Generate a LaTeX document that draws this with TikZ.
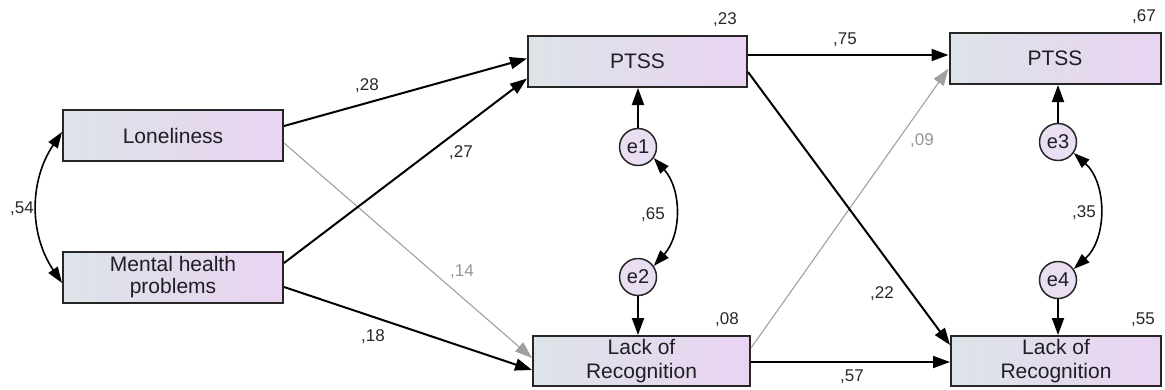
\documentclass[tikz,border=0pt]{standalone}
\usepackage{fontspec}
\setmainfont{Liberation Sans}
\usetikzlibrary{arrows.meta,calc}
\definecolor{boxL}{RGB}{220,228,232}
\definecolor{boxR}{RGB}{234,211,242}
\definecolor{errfill}{RGB}{234,222,242}
\definecolor{txt}{RGB}{30,30,36}
\definecolor{lbl}{RGB}{40,40,40}
\definecolor{glbl}{RGB}{150,150,150}
\definecolor{garrow}{RGB}{160,160,160}
\tikzset{
  var/.style={draw=black!85, line width=2pt, left color=boxL, right color=boxR,
    inner sep=0pt, text=txt, align=center,
    font=\fontsize{21}{23}\selectfont},
  err/.style={circle, draw=black!85, line width=1.5pt, fill=errfill, minimum size=37pt,
    inner sep=0pt, text=txt, font=\fontsize{20}{22}\selectfont},
  path/.style={line width=2pt, -{Triangle[length=17pt,width=12pt]}},
  gpath/.style={line width=1.1pt, draw=garrow, -{Triangle[length=17pt,width=12pt]}, color=garrow},
  cov/.style={line width=1.6pt, {Triangle[length=16pt,width=11pt]}-{Triangle[length=16pt,width=11pt]}},
  lab/.style={text=lbl, font=\fontsize{17}{19}\selectfont, inner sep=0pt},
  glab/.style={text=glbl, font=\fontsize{17}{19}\selectfont, inner sep=0pt},
}
\begin{document}
\begin{tikzpicture}[x=1pt,y=-1pt]
\useasboundingbox (0,0) rectangle (1165,389);
% variables
\node[var, minimum width=220pt, minimum height=51pt] (lon) at (173,135.5) {Loneliness};
\node[var, minimum width=220pt, minimum height=51pt, font=\fontsize{21}{22}\selectfont] (mhp) at (173,277.5) {Mental health\\problems};
\node[var, minimum width=219pt, minimum height=51pt] (ptssA) at (637.5,61.5) {PTSS};
\node[var, minimum width=211pt, minimum height=51pt] (ptssB) at (1055,58.5) {PTSS};
\node[var, minimum width=217pt, minimum height=50pt, font=\fontsize{21}{24}\selectfont] (lorA) at (641.5,361) {Lack of\\Recognition};
\node[var, minimum width=210pt, minimum height=50pt, font=\fontsize{21}{24}\selectfont] (lorB) at (1056,361) {Lack of\\Recognition};
% errors
\node[err] (e1) at (638,147) {e1};
\node[err] (e2) at (638,277) {e2};
\node[err] (e3) at (1058,142) {e3};
\node[err] (e4) at (1058,280) {e4};
% R2 labels
\node[lab] (r23) at (725,20) {,23};
\node[lab] (r67) at (1144,17) {,67};
\node[lab] (r08) at (727,320) {,08};
\node[lab] (r55) at (1143,320) {,55};
% regression paths
\draw[gpath] ([yshift=-7.5pt]lon.east) -- ([yshift=3pt]lorA.west);
\draw[gpath] ([yshift=13pt]lorA.east) -- ([yshift=-10pt]ptssB.west);
\draw[path] ([yshift=9.5pt]lon.east) -- ([yshift=3pt]ptssA.west);
\draw[path] ([yshift=14.5pt]mhp.east) -- ([yshift=-17pt]ptssA.west);
\draw[path] ([yshift=-9.5pt]mhp.east) -- ([yshift=-9pt]lorA.west);
\draw[path] ([yshift=6.5pt]ptssA.east) -- ([yshift=3.5pt]ptssB.west);
\draw[path] ([yshift=-10.5pt]ptssA.east) -- ([yshift=16pt]lorB.west);
\draw[path] ([yshift=-1pt]lorA.east) -- ([yshift=-1pt]lorB.west);
\draw[path] (e1.north) -- (e1.north |- ptssA.south);
\draw[path] (e2.south) -- (e2.south |- lorA.north);
\draw[path] (e3.north) -- (e3.north |- ptssB.south);
\draw[path] (e4.south) -- (e4.south |- lorB.north);
% covariances
\draw[cov] ([yshift=3.5pt]lon.west) to[bend right=34] ([yshift=-5.5pt]mhp.west);
\draw[cov] (e1.-35) to[bend left=42] (e2.35);
\draw[cov] (e3.-35) to[bend left=48] (e4.35);
% path labels
\node[lab] (l28) at (367,86) {,28};
\node[lab] (l27) at (461,153) {,27};
\node[glab] (l14) at (462,272) {,14};
\node[lab] (l18) at (373,337) {,18};
\node[lab] (l54) at (22,209) {,54};
\node[lab] (l75) at (845,40) {,75};
\node[lab] (l22) at (882,294) {,22};
\node[glab] (l09) at (922,141) {,09};
\node[lab] (l57) at (852,377) {,57};
\node[lab] (l65) at (653,215) {,65};
\node[lab] (l35) at (1084,213) {,35};
\end{tikzpicture}
\end{document}
